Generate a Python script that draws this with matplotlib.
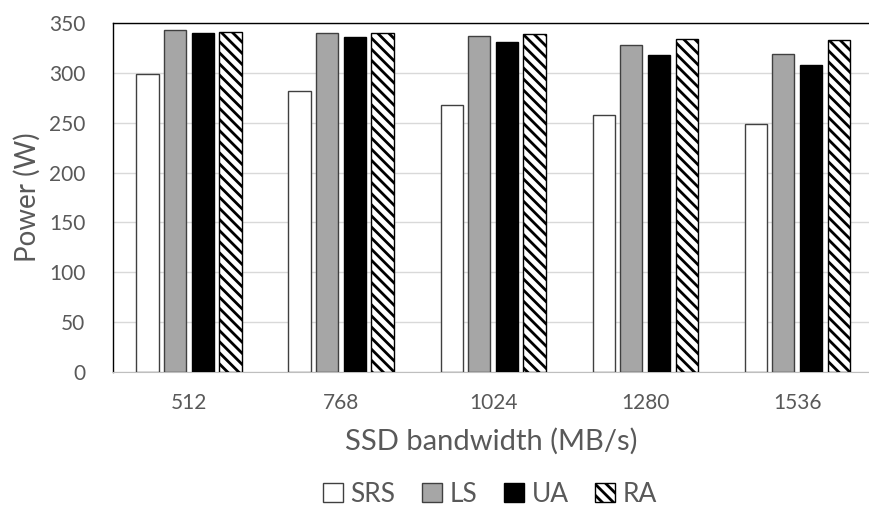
import matplotlib.pyplot as plt
import numpy as np

plt.rcParams['font.family'] = ['Lato', 'DejaVu Sans']
plt.rcParams['hatch.linewidth'] = 2.0

categories = ['512', '768', '1024', '1280', '1536']
series = ['SRS', 'LS', 'UA', 'RA']
srs = [299, 282, 268, 258, 249]
ls = [343, 340, 337, 328, 319]
ua = [340, 336, 331, 318, 308]
ra = [341, 340, 339, 334, 333]

valores = [srs, ls, ua, ra]
estilos = [
    dict(color='white', edgecolor='#404040'),
    dict(color='#a6a6a6', edgecolor='#404040'),
    dict(color='black', edgecolor='black'),
    dict(color='white', edgecolor='black', hatch='\\\\\\'),
]

texto = '#595959'

fig = plt.figure(figsize=(8.7, 5.12), dpi=100)
ax = fig.add_axes([113 / 870, 140 / 512, 1 - 113 / 870, 349 / 512])

x = np.arange(len(categories))
paso = 0.182
ancho = 0.145
for i, (nombre, vals, est) in enumerate(zip(series, valores, estilos)):
    ax.bar(x + (i - 1.5) * paso, vals, width=ancho, label=nombre,
           linewidth=1.0, zorder=3, **est)

ax.set_xlim(-0.5, 4.48)
ax.set_ylim(0, 350)
ax.set_yticks(range(0, 351, 50))
ax.set_xticks(x)
ax.set_xticklabels(categories)
ax.grid(axis='y', color='#d9d9d9', linewidth=1, zorder=0)
ax.tick_params(axis='both', length=0, labelsize=15, labelcolor=texto)
ax.tick_params(axis='y', pad=20)
ax.tick_params(axis='x', pad=15)

for lado in ['left', 'top']:
    ax.spines[lado].set_color('black')
    ax.spines[lado].set_linewidth(1)
ax.spines['right'].set_visible(False)
ax.spines['bottom'].set_color('#bfbfbf')

ax.set_ylabel('Power (W)', fontsize=20, color=texto, labelpad=6)
ax.set_xlabel('SSD bandwidth (MB/s)', fontsize=21, color=texto, labelpad=11)

fig.legend(loc='center', bbox_to_anchor=(490 / 870, 1 - 494 / 512), ncol=4,
           frameon=False, fontsize=19, handlelength=0.75, handleheight=0.75,
           handletextpad=0.3, columnspacing=1.0, labelcolor=texto)

plt.savefig('out.png', dpi=100)
plt.close()
